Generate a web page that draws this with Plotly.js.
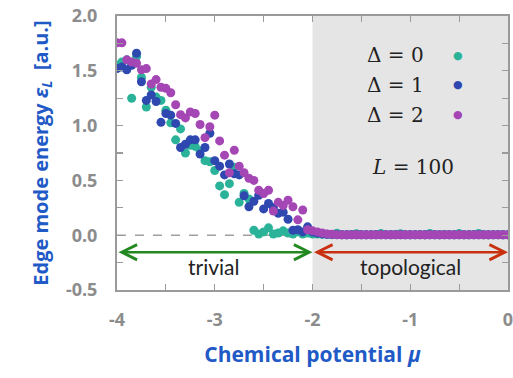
<!DOCTYPE html>
<html>
<head>
<meta charset="utf-8">
<script src="https://cdn.plot.ly/plotly-3.0.1.min.js"></script>
<style>html,body{margin:0;padding:0;background:#fff;}#chart{width:513px;height:378px;}</style>
</head>
<body>
<div id="chart"></div>
<script>
// chemical potential grid
const mu = [-4,-3.95,-3.9,-3.85,-3.8,-3.75,-3.7,-3.65,-3.6,-3.55,
  -3.5,-3.45,-3.4,-3.35,-3.3,-3.25,-3.2,-3.15,-3.1,-3.05,
  -3,-2.95,-2.9,-2.85,-2.8,-2.75,-2.7,-2.65,-2.6,-2.55,
  -2.5,-2.45,-2.4,-2.35,-2.3,-2.25,-2.2,-2.15,-2.1,-2.05,
  -2,-1.95,-1.9,-1.85,-1.8,-1.75,-1.7,-1.65,-1.6,-1.55,
  -1.5,-1.45,-1.4,-1.35,-1.3,-1.25,-1.2,-1.15,-1.1,-1.05,
  -1,-0.95,-0.9,-0.85,-0.8,-0.75,-0.7,-0.65,-0.6,-0.55,
  -0.5,-0.45,-0.4,-0.35,-0.3,-0.25,-0.2,-0.15,-0.1,-0.05,0];

// Delta = 0
const eps0 = [1.55,1.58,1.60,1.25,1.63,1.44,1.17,1.35,1.26,1.23,
  1.14,1.025,0.87,0.97,0.75,0.82,0.81,0.77,0.68,0.67,
  0.59,0.45,0.37,0.47,0.62,0.30,0.38,0.33,0.045,0.01,
  0.03,0.067,0.01,0.02,0.04,0.02,0.01,0.03,0.01,0.02,
  0.01,
  0.010,0.008,0.006,0.005,0.018,0.005,0.004,0.006,0.014,0.005,
  0.004,0.005,0.006,0.015,0.005,0.004,0.006,0.014,0.005,0.004,
  0.005,0.006,0.004,0.016,0.005,0.004,0.006,0.005,0.004,0.015,
  0.005,0.004,0.006,0.016,0.005,0.004,0.005,0.006,0.004,0.005];

// Delta = 1
const eps1 = [1.52,1.535,1.51,1.55,1.66,1.40,1.23,1.28,1.22,1.03,
  1.11,1.095,1.02,0.80,0.83,0.87,0.87,0.74,0.80,0.93,
  0.68,0.63,0.55,0.65,0.56,0.55,0.36,0.26,0.31,0.365,
  0.24,0.29,0.25,0.20,0.21,0.146,0.045,0.05,0.03,0.076,
  0.03,
  0.020,0.012,0.008,0.006,0.005,0.004,0.004,0.004,0.004,0.004,
  0.004,0.004,0.004,0.004,0.004,0.004,0.004,0.004,0.004,0.004,
  0.004,0.004,0.004,0.004,0.004,0.004,0.004,0.004,0.004,0.004,
  0.004,0.004,0.004,0.004,0.004,0.004,0.004,0.004,0.004,0.004];

// Delta = 2
const eps2 = [1.755,1.755,1.60,1.58,1.57,1.51,1.52,1.38,1.42,1.35,
  1.34,1.30,1.19,1.10,1.07,1.125,1.11,1.01,0.89,0.99,
  1.095,0.86,0.73,0.57,0.775,0.63,0.57,0.52,0.50,0.41,
  0.38,0.41,0.22,0.30,0.27,0.32,0.26,0.14,0.23,0.05,
  0.04,
  0.030,0.020,0.012,0.008,0.005,0.003,0.003,0.003,0.003,0.003,
  0.003,0.003,0.003,0.003,0.003,0.003,0.003,0.003,0.003,0.003,
  0.003,0.003,0.003,0.003,0.003,0.003,0.003,0.003,0.003,0.003,
  0.003,0.003,0.003,0.003,0.003,0.003,0.003,0.003,0.003,0.003];

const seriesNames = ['Δ = 0','Δ = 1','Δ = 2'];
const seriesColors = ['#2bb39a','#2e48b0','#a546b5'];
const xTickVals = [-4,-3,-2,-1,0];
const xTickText = ['-4','-3','-2','-1','0'];
const yTickVals = [-0.5,0,0.5,1,1.5,2];
const yTickText = ['-0.5','0.0','0.5','1.0','1.5','2.0'];

const allY = [eps0, eps1, eps2];
const traces = allY.map((y,i)=>({
  type:'scatter', mode:'markers', x: mu, y: y, name: seriesNames[i],
  marker:{color: seriesColors[i], size: 9, line:{width:0}},
  showlegend:false, cliponaxis:true
}));

const tickFont = {family:'Open Sans, sans-serif', size:18, color:'#8c8c8c', weight:700};
const titleColor = '#1f5ac6';
const axCommon = {
  showgrid:false, zeroline:false, showline:true, linecolor:'#9a9a9a', linewidth:2,
  mirror:'allticks', ticks:'inside', ticklen:6, tickwidth:1.2, tickcolor:'#9a9a9a',
  tickfont: tickFont
};

const legendY = [1.642, 1.375, 1.101];
const annotations = [];
seriesNames.forEach((n,i)=>{
  annotations.push({x:-1.146, y:legendY[i], xref:'x', yref:'y', text:n, showarrow:false,
    font:{family:'DejaVu Serif, serif', size:20, color:'#222'}, xanchor:'center', yanchor:'middle'});
  annotations.push({x:-0.512, y:legendY[i], xref:'x', yref:'y', text:'●', showarrow:false,
    font:{family:'DejaVu Sans, sans-serif', size:11, color:seriesColors[i]}, xanchor:'center', yanchor:'middle'});
});
annotations.push({x:-0.972, y:0.62, xref:'x', yref:'y', text:'<i>L</i> = 100', showarrow:false,
  font:{family:'DejaVu Serif, serif', size:20, color:'#222'}});
annotations.push({x:-3.008, y:-0.289, xref:'x', yref:'y', text:'trivial', showarrow:false,
  font:{family:'Lato, sans-serif', size:21, color:'#222'}});
annotations.push({x:-1.0, y:-0.289, xref:'x', yref:'y', text:'topological', showarrow:false,
  font:{family:'Lato, sans-serif', size:21, color:'#222'}});
// arrows
annotations.push({x:-2, y:-0.155, ax:-4, ay:-0.155, xref:'x', yref:'y', axref:'x', ayref:'y',
  text:'', showarrow:true, arrowside:'end+start', arrowhead:5, startarrowhead:5, arrowsize:1.2, startarrowsize:1.2,
  arrowwidth:2.5, arrowcolor:'#23881f', standoff:0, startstandoff:0});
annotations.push({x:0, y:-0.155, ax:-2, ay:-0.155, xref:'x', yref:'y', axref:'x', ayref:'y',
  text:'', showarrow:true, arrowside:'end+start', arrowhead:5, startarrowhead:5, arrowsize:1.2, startarrowsize:1.2,
  arrowwidth:2.5, arrowcolor:'#c8300f', standoff:0, startstandoff:0});

const layout = {
  width:513, height:378,
  margin:{l:117, r:5, t:16, b:88},
  paper_bgcolor:'#fff', plot_bgcolor:'#fff',
  showlegend:false,
  xaxis: Object.assign({}, axCommon, {
    range:[-4,0], tickvals:xTickVals, ticktext:xTickText, ticklabelstandoff:12, ticklabeloverflow:'allow',
    minor:{dtick:0.5, ticks:'inside', ticklen:6, tickcolor:'#9a9a9a', tickwidth:1.2, showgrid:false},
    title:{text:'Chemical potential <i>μ</i>', font:{family:'Open Sans, sans-serif', size:21, color:titleColor, weight:700}, standoff:18}
  }),
  yaxis: Object.assign({}, axCommon, {
    range:[-0.5,2.0], tickvals:yTickVals, ticktext:yTickText, ticklabelstandoff:14,
    minor:{dtick:0.25, ticks:'inside', ticklen:6, tickcolor:'#9a9a9a', tickwidth:1.2, showgrid:false},
    title:{text:'Edge mode energy <i>ε</i><sub><i>L</i></sub>  [a.u.]', font:{family:'Open Sans, sans-serif', size:20, color:titleColor, weight:700}, standoff:12}
  }),
  shapes:[
    {type:'rect', xref:'x', yref:'y', x0:-2, x1:0, y0:-0.5, y1:2, fillcolor:'#e5e5e5', line:{width:0}, layer:'below'},
    {type:'line', xref:'x', yref:'y', x0:-4, x1:0, y0:0, y1:0, line:{color:'#a0a0a0', width:1.5, dash:'dash'}, layer:'below'}
  ],
  annotations: annotations
};

Plotly.newPlot('chart', traces, layout, {staticPlot:true, displayModeBar:false});
</script>
</body>
</html>
